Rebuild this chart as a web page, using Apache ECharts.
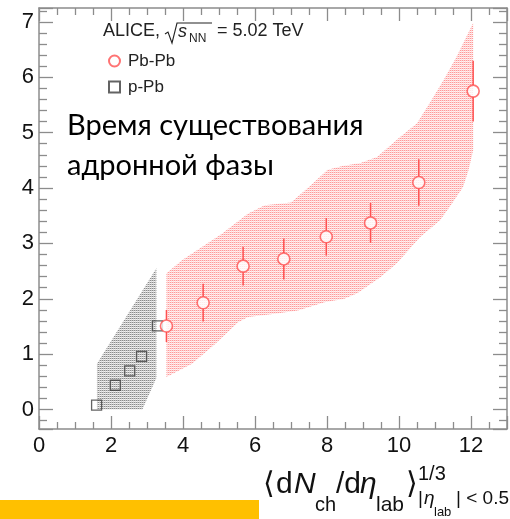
<!DOCTYPE html>
<html>
<head>
<meta charset="utf-8">
<script src="https://cdn.jsdelivr.net/npm/echarts@6/dist/echarts.min.js"></script>
<style>
  html, body { margin: 0; padding: 0; background: #fff; }
  #chart { width: 510px; height: 519px; }
</style>
</head>
<body>
<div id="chart"></div>
<script>
// Pb-Pb measurements: <dNch/deta>^(1/3), value, statistical uncertainty
const pbX   = [3.54, 4.56, 5.67, 6.80, 7.98, 9.21, 10.55, 12.06];
const pbY   = [1.51, 1.93, 2.59, 2.72, 3.12, 3.37, 4.10, 5.75];
const pbErr = [0.29, 0.34, 0.35, 0.37, 0.34, 0.36, 0.42, 0.55];

// p-Pb measurements
const ppbX = [1.60, 2.12, 2.52, 2.85, 3.29];
const ppbY = [0.08, 0.44, 0.70, 0.96, 1.51];

// Pb-Pb systematic band: upper and lower edges
const pbBandUpX = [3.54, 3.98, 5.07, 5.81, 6.27, 7.00, 7.52, 8.02, 8.43, 8.93, 9.39, 10.03, 10.50, 10.85, 11.24, 11.60, 12.06];
const pbBandUpY = [2.46, 2.70, 3.17, 3.54, 3.69, 3.74, 4.03, 4.33, 4.40, 4.45, 4.56, 4.92, 5.17, 5.53, 5.95, 6.37, 6.98];
const pbBandLoX = [3.54, 4.25, 4.90, 5.54, 5.81, 6.55, 7.19, 7.93, 8.48, 8.84, 9.48, 9.94, 10.58, 11.14, 11.41, 11.78, 11.93, 12.06];
const pbBandLoY = [0.59, 0.83, 1.19, 1.58, 1.67, 1.73, 1.79, 1.94, 2.00, 2.10, 2.39, 2.64, 3.11, 3.42, 3.66, 4.02, 4.32, 4.68];

// p-Pb systematic band: upper and lower edges
const ppbBandUpX = [1.61, 3.26];
const ppbBandUpY = [0.83, 2.55];
const ppbBandLoX = [1.61, 2.87, 3.26];
const ppbBandLoY = [0.00, 0.00, 0.57];

// Axis tick labels
const xTicks = [0, 2, 4, 6, 8, 10, 12];
const yTicks = [0, 1, 2, 3, 4, 5, 6, 7];

const RED = '#ff5050';
const GREY = '#3c3c3c';
const FRAME = '#8c8c8c';
const SANS = '"Liberation Sans", Arial, sans-serif';

// Dotted fill textures for the systematic bands
function dotPattern(c00, c10, c01, c11) {
  const cv = document.createElement('canvas');
  cv.width = 2; cv.height = 2;
  const g = cv.getContext('2d');
  g.fillStyle = c00; g.fillRect(0, 0, 1, 1);
  g.fillStyle = c10; g.fillRect(1, 0, 1, 1);
  g.fillStyle = c01; g.fillRect(0, 1, 1, 1);
  g.fillStyle = c11; g.fillRect(1, 1, 1, 1);
  return { image: cv, repeat: 'repeat' };
}
const redFill  = dotPattern('#ff9898', '#ffd0d0', '#fff6f6', '#ffe0e0');
const greyFill = dotPattern('#8a8a8a', '#c4c4c4', '#f4f4f4', '#dcdcdc');

function bandSeries(upX, upY, loX, loY, fill, z) {
  return {
    type: 'custom',
    silent: true,
    z: z,
    clip: true,
    data: [[upX[0], upY[0]]],
    renderItem: function (params, api) {
      const pts = [];
      for (let i = 0; i < upX.length; i++) pts.push(api.coord([upX[i], upY[i]]));
      for (let i = loX.length - 1; i >= 0; i--) pts.push(api.coord([loX[i], loY[i]]));
      return { type: 'polygon', shape: { points: pts }, style: { fill: fill } };
    }
  };
}

const isTick = (list) => (v) => list.some(t => Math.abs(t - v) < 1e-6) ? String(Math.round(v)) : '';

const axisCommon = {
  axisLine: { show: true, onZero: false, lineStyle: { color: FRAME, width: 1.5 } },
  axisTick: { show: true, inside: true, lineStyle: { color: FRAME, width: 1.3 } },
  minorTick: { show: true, lineStyle: { color: FRAME, width: 1.3 } },
  splitLine: { show: false }
};

function xAxisDef(pos, labels) {
  return Object.assign({}, axisCommon, {
    type: 'value', position: pos, min: 0, max: 13, interval: 2,
    axisTick: Object.assign({}, axisCommon.axisTick, { length: 13 }),
    minorTick: Object.assign({}, axisCommon.minorTick, { splitNumber: 4, length: 7 }),
    axisLabel: { show: labels, margin: 6, fontSize: 22, color: '#111', fontFamily: SANS,
                 formatter: isTick(xTicks) }
  });
}
function yAxisDef(pos, labels) {
  return Object.assign({}, axisCommon, {
    type: 'value', position: pos, min: -0.35, max: 7.25, minInterval: 1, maxInterval: 1,
    axisTick: Object.assign({}, axisCommon.axisTick, { length: 14 }),
    minorTick: Object.assign({}, axisCommon.minorTick, { splitNumber: 5, length: 8 }),
    axisLabel: { show: labels, margin: 5, fontSize: 22, color: '#111', fontFamily: SANS,
                 formatter: isTick(yTicks) }
  });
}

const chart = echarts.init(document.getElementById('chart'), null, { renderer: 'canvas' });

const option = {
  animation: false,
  backgroundColor: '#fff',
  grid: { left: 39, top: 8, width: 472, height: 421, containLabel: false },
  xAxis: [xAxisDef('bottom', true), xAxisDef('top', false)],
  yAxis: [yAxisDef('left', true), yAxisDef('right', false)],
  legend: {
    orient: 'vertical', left: 108, top: 51, padding: 0,
    itemWidth: 11, itemHeight: 11, itemGap: 6,
    textStyle: { fontSize: 17, fontFamily: SANS, color: '#222', lineHeight: 20, padding: [0, 0, 0, 3] },
    data: ['Pb-Pb', 'p-Pb']
  },
  series: [
    bandSeries(pbBandUpX, pbBandUpY, pbBandLoX, pbBandLoY, redFill, 1),
    bandSeries(ppbBandUpX, ppbBandUpY, ppbBandLoX, ppbBandLoY, greyFill, 2),
    {
      type: 'custom', silent: true, z: 4,
      data: pbX.map((x, i) => [x, pbY[i], pbErr[i]]),
      renderItem: function (params, api) {
        const x = api.value(0), y = api.value(1), e = api.value(2);
        const c = api.coord([x, y]);
        const hi = api.coord([x, y + e]);
        const lo = api.coord([x, y - e]);
        const r = 6;
        return {
          type: 'group',
          children: [
            { type: 'line', shape: { x1: c[0], y1: hi[1], x2: c[0], y2: c[1] - r }, style: { stroke: RED, lineWidth: 1.5 } },
            { type: 'line', shape: { x1: c[0], y1: c[1] + r, x2: c[0], y2: lo[1] }, style: { stroke: RED, lineWidth: 1.5 } }
          ]
        };
      }
    },
    {
      name: 'p-Pb', type: 'scatter', z: 5,
      symbol: 'rect', symbolSize: 10,
      itemStyle: { color: 'rgba(255,255,255,0)', borderColor: GREY, borderWidth: 1.3 },
      data: ppbX.map((x, i) => [x, ppbY[i]])
    },
    {
      name: 'Pb-Pb', type: 'scatter', z: 6,
      symbol: 'circle', symbolSize: 12,
      itemStyle: { color: '#ffffff', borderColor: RED, borderWidth: 1.6 },
      data: pbX.map((x, i) => [x, pbY[i]])
    }
  ],
  graphic: [
    // collision system label
    { type: 'text', x: 103, y: 31, style: { text: 'ALICE,', font: '18px ' + SANS, fill: '#222', verticalAlign: 'middle' } },
    { type: 'polyline', shape: { points: [[165, 34], [168, 32], [172, 43], [177, 23], [212, 23]] }, style: { stroke: '#222', lineWidth: 1.1, fill: null } },
    { type: 'text', x: 178, y: 32, style: { text: 's', font: 'italic 18px ' + SANS, fill: '#222', verticalAlign: 'middle' } },
    { type: 'text', x: 189, y: 39, style: { text: 'NN', font: '12px ' + SANS, fill: '#222', verticalAlign: 'middle' } },
    { type: 'text', x: 217, y: 31, style: { text: '= 5.02 TeV', font: '18px ' + SANS, fill: '#222', verticalAlign: 'middle' } },

    // annotation
    { type: 'text', x: 67, y: 126, style: { text: 'Время существования', font: '29px Lato, "Noto Sans", sans-serif', fill: '#000', verticalAlign: 'middle' } },
    { type: 'text', x: 67, y: 166, style: { text: 'адронной фазы', font: '29px Lato, "Noto Sans", sans-serif', fill: '#000', verticalAlign: 'middle' } },

    // x-axis title
    { type: 'text', x: 263, y: 485, style: { text: '\u27E8', font: '30px ' + SANS, fill: '#111', verticalAlign: 'middle' } },
    { type: 'text', x: 276, y: 485, style: { text: 'd', font: '30px ' + SANS, fill: '#111', verticalAlign: 'middle' } },
    { type: 'text', x: 294, y: 485, style: { text: 'N', font: 'italic 30px ' + SANS, fill: '#111', verticalAlign: 'middle' } },
    { type: 'text', x: 315, y: 505, style: { text: 'ch', font: '20px ' + SANS, fill: '#111', verticalAlign: 'middle' } },
    { type: 'text', x: 336, y: 485, style: { text: '/d', font: '30px ' + SANS, fill: '#111', verticalAlign: 'middle' } },
    { type: 'text', x: 360, y: 485, style: { text: '\u03B7', font: 'italic 30px ' + SANS, fill: '#111', verticalAlign: 'middle' } },
    { type: 'text', x: 376, y: 505, style: { text: 'lab', font: '21px ' + SANS, fill: '#111', verticalAlign: 'middle' } },
    { type: 'text', x: 406, y: 485, style: { text: '\u27E9', font: '30px ' + SANS, fill: '#111', verticalAlign: 'middle' } },
    { type: 'text', x: 418, y: 474, style: { text: '1/3', font: '20px ' + SANS, fill: '#111', verticalAlign: 'middle' } },
    { type: 'text', x: 418, y: 499, style: { text: '|', font: '19px ' + SANS, fill: '#111', verticalAlign: 'middle' } },
    { type: 'text', x: 424, y: 499, style: { text: '\u03B7', font: 'italic 19px ' + SANS, fill: '#111', verticalAlign: 'middle' } },
    { type: 'text', x: 434, y: 512, style: { text: 'lab', font: '13px ' + SANS, fill: '#111', verticalAlign: 'middle' } },
    { type: 'text', x: 456, y: 499, style: { text: '| < 0.5', font: '19px ' + SANS, fill: '#111', verticalAlign: 'middle' } },

    // footer bar
    { type: 'rect', shape: { x: 0, y: 500, width: 259, height: 19 }, style: { fill: '#ffc000' }, z: 100 }
  ]
};

chart.setOption(option);
</script>
</body>
</html>
